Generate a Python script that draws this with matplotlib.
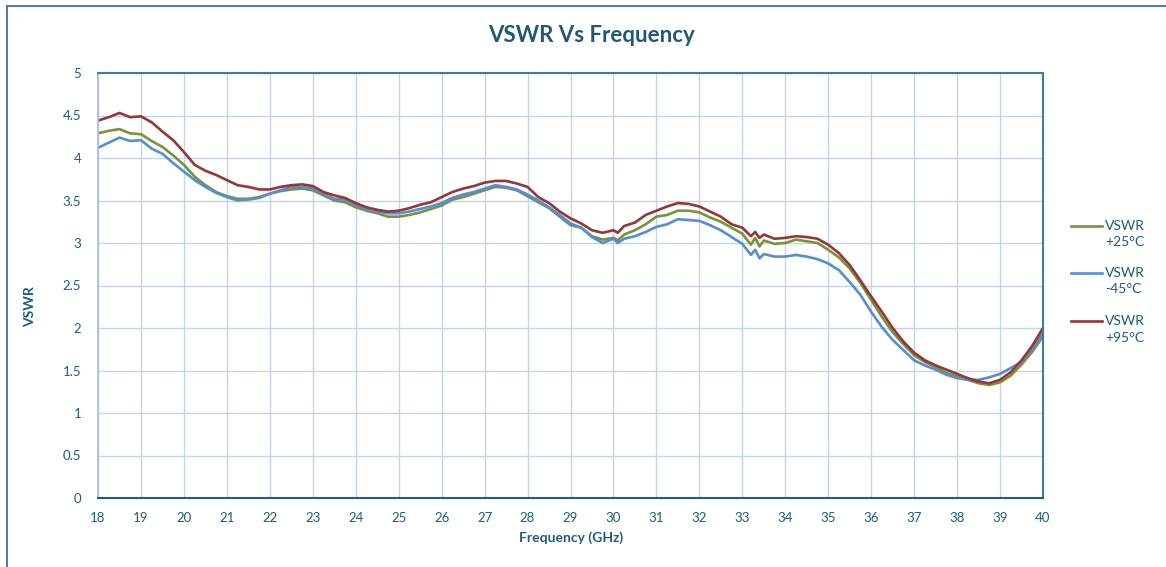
import numpy as np
from matplotlib import pyplot as plt
from matplotlib.lines import Line2D

plt.rcParams['font.family'] = ['Lato', 'DejaVu Sans']

# frequency points (GHz)
freq = [18, 18.25, 18.5, 18.75, 19, 19.25, 19.5, 19.75, 20, 20.25, 20.5, 20.75,
        21, 21.25, 21.5, 21.75, 22, 22.25, 22.5, 22.75, 23, 23.25, 23.5, 23.75,
        24, 24.25, 24.5, 24.75, 25, 25.25, 25.5, 25.75, 26, 26.25, 26.5, 26.75,
        27, 27.25, 27.5, 27.75, 28, 28.25, 28.5, 28.75, 29, 29.25, 29.5, 29.75,
        30, 30.1, 30.25, 30.5, 30.75, 31, 31.25, 31.5, 31.75, 32, 32.25, 32.5,
        32.75, 33, 33.2, 33.3, 33.4, 33.5, 33.75, 34, 34.25, 34.5, 34.75, 35,
        35.25, 35.5, 35.75, 36, 36.25, 36.5, 36.75, 37, 37.25, 37.5, 37.75, 38,
        38.25, 38.5, 38.75, 39, 39.25, 39.5, 39.75, 40]

vswr_25 = [4.29, 4.32, 4.34, 4.29, 4.28, 4.20, 4.13, 4.03, 3.92, 3.78, 3.68, 3.60,
           3.55, 3.52, 3.52, 3.54, 3.58, 3.61, 3.63, 3.64, 3.62, 3.56, 3.50, 3.48,
           3.42, 3.38, 3.35, 3.31, 3.31, 3.33, 3.36, 3.40, 3.44, 3.51, 3.54, 3.58,
           3.62, 3.66, 3.65, 3.62, 3.55, 3.48, 3.41, 3.31, 3.21, 3.18, 3.08, 3.04,
           3.06, 3.03, 3.10, 3.15, 3.22, 3.31, 3.33, 3.38, 3.38, 3.36, 3.30, 3.25,
           3.18, 3.11, 2.98, 3.06, 2.96, 3.03, 2.99, 3.00, 3.04, 3.02, 3.00, 2.92,
           2.83, 2.70, 2.53, 2.33, 2.13, 1.95, 1.81, 1.68, 1.60, 1.54, 1.47, 1.43,
           1.39, 1.35, 1.33, 1.36, 1.44, 1.57, 1.72, 1.90]

vswr_m45 = [4.12, 4.18, 4.24, 4.20, 4.21, 4.11, 4.05, 3.94, 3.84, 3.74, 3.66, 3.59,
            3.54, 3.50, 3.51, 3.53, 3.58, 3.62, 3.66, 3.66, 3.64, 3.58, 3.52, 3.51,
            3.45, 3.40, 3.37, 3.35, 3.35, 3.37, 3.40, 3.43, 3.47, 3.53, 3.57, 3.60,
            3.64, 3.68, 3.66, 3.63, 3.57, 3.50, 3.42, 3.33, 3.23, 3.18, 3.07, 3.00,
            3.05, 3.00, 3.05, 3.08, 3.13, 3.19, 3.22, 3.28, 3.27, 3.26, 3.21, 3.15,
            3.07, 2.99, 2.86, 2.92, 2.82, 2.87, 2.84, 2.84, 2.86, 2.84, 2.81, 2.76,
            2.68, 2.54, 2.39, 2.19, 2.01, 1.86, 1.74, 1.62, 1.56, 1.51, 1.45, 1.41,
            1.39, 1.39, 1.42, 1.46, 1.53, 1.60, 1.76, 1.94]

vswr_95 = [4.44, 4.48, 4.53, 4.48, 4.49, 4.42, 4.31, 4.21, 4.07, 3.92, 3.85, 3.80,
           3.74, 3.68, 3.66, 3.63, 3.63, 3.66, 3.68, 3.69, 3.67, 3.60, 3.56, 3.53,
           3.47, 3.42, 3.39, 3.37, 3.38, 3.41, 3.45, 3.48, 3.54, 3.60, 3.64, 3.67,
           3.71, 3.73, 3.73, 3.70, 3.66, 3.54, 3.47, 3.37, 3.29, 3.23, 3.15, 3.12,
           3.15, 3.12, 3.20, 3.24, 3.33, 3.38, 3.43, 3.47, 3.46, 3.43, 3.37, 3.31,
           3.22, 3.18, 3.08, 3.13, 3.06, 3.10, 3.05, 3.06, 3.08, 3.07, 3.05, 2.98,
           2.88, 2.74, 2.56, 2.37, 2.19, 2.00, 1.84, 1.71, 1.62, 1.56, 1.51, 1.46,
           1.41, 1.37, 1.35, 1.39, 1.48, 1.62, 1.79, 2.00]

series = [('VSWR\n+25°C', vswr_25, '#77933c'),
          ('VSWR\n-45°C', vswr_m45, '#558ed5'),
          ('VSWR\n+95°C', vswr_95, '#953735')]

textColor = '#1f5c80'
gridColor = '#c3d5ea'

fig = plt.figure(figsize=(11.66, 5.67), dpi=100)
W, H = 1166.0, 567.0
ax = fig.add_axes([98 / W, 1 - 498 / H, (1043 - 98) / W, (498 - 73) / H])

for name, values, color in series:
    ax.plot(freq, values, color=color, linewidth=1.9, label=name, solid_joinstyle='round')

ax.set_xlim(18, 40)
ax.set_ylim(0, 5)
ax.set_xticks(np.arange(18, 41, 1))
ax.set_yticks(np.arange(0, 5.01, 0.5))
ax.set_yticklabels(['0', '0.5', '1', '1.5', '2', '2.5', '3', '3.5', '4', '4.5', '5'])
ax.grid(True, color=gridColor, linewidth=1.0)
ax.set_axisbelow(True)
ax.tick_params(length=0, labelsize=9.5, colors=textColor, pad=10)
ax.tick_params(axis='y', pad=12)

for side in ['top', 'right', 'bottom']:
    ax.spines[side].set_color('#3f7ca0')
    ax.spines[side].set_linewidth(1.5)
ax.spines['bottom'].set_color('#1f5c80')
ax.spines['left'].set_color('#a9c3e0')
ax.spines['left'].set_linewidth(1.3)

fig.text(591 / W, 1 - 36 / H, 'VSWR Vs Frequency', ha='center', va='center',
         fontsize=16, fontweight='bold', color='#1f5878')
fig.text(571 / W, 1 - 538 / H, 'Frequency (GHz)', ha='center', va='center',
         fontsize=10, fontweight='bold', color=textColor)
fig.text(30 / W, 1 - 307 / H, 'VSWR', ha='center', va='center', rotation=90,
         fontsize=10, fontweight='bold', color=textColor)

# legend drawn by hand so the line sits beside the first text row
legendRows = [226, 273, 321]
for (name, values, color), row in zip(series, legendRows):
    yy = 1 - row / H
    fig.add_artist(Line2D([1071 / W, 1102 / W], [yy, yy], color=color, linewidth=1.9))
    fig.text(1105 / W, yy + 6 / H, name, ha='left', va='top', fontsize=10,
             color=textColor, linespacing=1.45)

# outer chart border (cropped at right and bottom)
fig.add_artist(Line2D([7 / W, 1.0], [1 - 6 / H, 1 - 6 / H], color='#3a7394', linewidth=1.3))
fig.add_artist(Line2D([7 / W, 7 / W], [1 - 6 / H, 0.0], color='#3a7394', linewidth=1.3))

plt.savefig('out.png', dpi=100)
plt.close()
